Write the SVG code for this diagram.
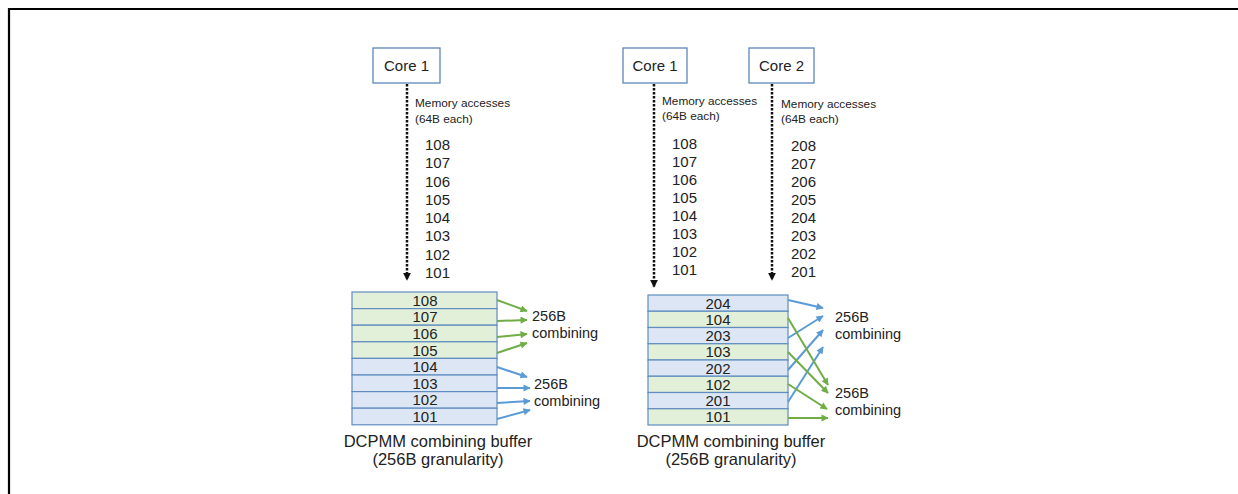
<svg xmlns="http://www.w3.org/2000/svg" width="1238" height="494" viewBox="0 0 1238 494">
<defs>
<style>
text{font-family:"Liberation Sans",Arial,sans-serif;fill:#222}
.core{fill:#fff;stroke:#5b87b9;stroke-width:1.3}
.ct{font-size:15px;text-anchor:middle}
.ma{font-size:11.8px}
.num{font-size:15px}
.bn{font-size:15px;text-anchor:middle}
.cap{font-size:16.5px;text-anchor:middle}
.lbl{font-size:14.5px}
.g{fill:#e2efd9;stroke:#5f8dc0;stroke-width:1.2}
.b{fill:#dce6f4;stroke:#5f8dc0;stroke-width:1.2}
.dot{stroke:#111;stroke-width:2.5;stroke-dasharray:2.5 1.5;fill:none;marker-end:url(#ak)}
.ga{stroke:#70ad47;stroke-width:2;fill:none;marker-end:url(#ag)}
.ba{stroke:#5b9bd5;stroke-width:2;fill:none;marker-end:url(#ab)}
</style>
<marker id="ak" viewBox="0 0 10 10" refX="9" refY="5" markerWidth="3.2" markerHeight="3.2" orient="auto" markerUnits="strokeWidth"><path d="M0,0L10,5L0,10z" fill="#111"/></marker>
<marker id="ag" viewBox="0 0 10 10" refX="9" refY="5" markerWidth="4.5" markerHeight="3.6" orient="auto" markerUnits="strokeWidth"><path d="M0,0L10,5L0,10z" fill="#70ad47"/></marker>
<marker id="ab" viewBox="0 0 10 10" refX="9" refY="5" markerWidth="4.5" markerHeight="3.6" orient="auto" markerUnits="strokeWidth"><path d="M0,0L10,5L0,10z" fill="#5b9bd5"/></marker>
</defs>
<rect width="1238" height="494" fill="#fff"/>
<path d="M8,9H1238M9,8V494" stroke="#000" stroke-width="2.2" fill="none"/>

<g id="left-core1">
<rect class="core" x="373" y="48" width="67" height="35"/>
<text class="ct" x="406.5" y="71">Core 1</text>
</g>
<g id="left-accesses">
<text class="ma" x="415" y="107">Memory accesses</text>
<text class="ma" x="415" y="123">(64B each)</text>
<text class="num" x="425" y="150">108</text>
<text class="num" x="425" y="168.3">107</text>
<text class="num" x="425" y="186.6">106</text>
<text class="num" x="425" y="204.9">105</text>
<text class="num" x="425" y="223.1">104</text>
<text class="num" x="425" y="241.4">103</text>
<text class="num" x="425" y="259.7">102</text>
<text class="num" x="425" y="278">101</text>
</g>
<g id="left-buffer">
<rect class="g" x="352" y="292" width="145" height="16.6"/>
<rect class="g" x="352" y="308.6" width="145" height="16.6"/>
<rect class="g" x="352" y="325.2" width="145" height="16.6"/>
<rect class="g" x="352" y="341.8" width="145" height="16.6"/>
<rect class="b" x="352" y="358.4" width="145" height="16.6"/>
<rect class="b" x="352" y="375" width="145" height="16.6"/>
<rect class="b" x="352" y="391.6" width="145" height="16.6"/>
<rect class="b" x="352" y="408.2" width="145" height="16.6"/>
<text class="bn" x="425" y="305.8">108</text>
<text class="bn" x="425" y="322.4">107</text>
<text class="bn" x="425" y="339">106</text>
<text class="bn" x="425" y="355.6">105</text>
<text class="bn" x="425" y="372.2">104</text>
<text class="bn" x="425" y="388.8">103</text>
<text class="bn" x="425" y="405.4">102</text>
<text class="bn" x="425" y="422">101</text>
<text class="cap" x="438" y="447">DCPMM combining buffer</text>
<text class="cap" x="438" y="465">(256B granularity)</text>
</g>
<g id="left-labels">
<text class="lbl" x="532" y="321">256B</text>
<text class="lbl" x="532" y="338">combining</text>
<text class="lbl" x="534" y="389">256B</text>
<text class="lbl" x="534" y="406">combining</text>
</g>

<g id="right-core1">
<rect class="core" x="623" y="48" width="64" height="35"/>
<text class="ct" x="655" y="71">Core 1</text>
</g>
<g id="right-core2">
<rect class="core" x="749" y="48" width="65" height="35"/>
<text class="ct" x="781.5" y="71">Core 2</text>
</g>
<g id="right-accesses1">
<text class="ma" x="662" y="105">Memory accesses</text>
<text class="ma" x="662" y="120">(64B each)</text>
<text class="num" x="672" y="149">108</text>
<text class="num" x="672" y="167">107</text>
<text class="num" x="672" y="185">106</text>
<text class="num" x="672" y="203">105</text>
<text class="num" x="672" y="221">104</text>
<text class="num" x="672" y="239">103</text>
<text class="num" x="672" y="257">102</text>
<text class="num" x="672" y="275">101</text>
</g>
<g id="right-accesses2">
<text class="ma" x="781" y="108">Memory accesses</text>
<text class="ma" x="781" y="123">(64B each)</text>
<text class="num" x="791" y="151">208</text>
<text class="num" x="791" y="169">207</text>
<text class="num" x="791" y="187">206</text>
<text class="num" x="791" y="205">205</text>
<text class="num" x="791" y="223">204</text>
<text class="num" x="791" y="241">203</text>
<text class="num" x="791" y="259">202</text>
<text class="num" x="791" y="277">201</text>
</g>
<g id="right-buffer">
<rect class="b" x="648" y="295" width="140" height="16.25"/>
<rect class="g" x="648" y="311.25" width="140" height="16.25"/>
<rect class="b" x="648" y="327.5" width="140" height="16.25"/>
<rect class="g" x="648" y="343.75" width="140" height="16.25"/>
<rect class="b" x="648" y="360" width="140" height="16.25"/>
<rect class="g" x="648" y="376.25" width="140" height="16.25"/>
<rect class="b" x="648" y="392.5" width="140" height="16.25"/>
<rect class="g" x="648" y="408.75" width="140" height="16.25"/>
<text class="bn" x="718" y="308.6">204</text>
<text class="bn" x="718" y="324.8">104</text>
<text class="bn" x="718" y="341.1">203</text>
<text class="bn" x="718" y="357.3">103</text>
<text class="bn" x="718" y="373.6">202</text>
<text class="bn" x="718" y="389.8">102</text>
<text class="bn" x="718" y="406.1">201</text>
<text class="bn" x="718" y="422.3">101</text>
<text class="cap" x="731" y="447">DCPMM combining buffer</text>
<text class="cap" x="731" y="465">(256B granularity)</text>
</g>
<g id="right-labels">
<text class="lbl" x="835" y="322">256B</text>
<text class="lbl" x="835" y="339">combining</text>
<text class="lbl" x="835" y="398">256B</text>
<text class="lbl" x="835" y="415">combining</text>
</g>

<g id="connectors">
<path class="dot" d="M407,84V280"/>
<path class="dot" d="M654,84V287"/>
<path class="dot" d="M772,84V280"/>
<path class="ga" d="M497,300L527,311"/>
<path class="ga" d="M497,321L527,320"/>
<path class="ga" d="M497,337L527,334"/>
<path class="ga" d="M497,353L527,343"/>
<path class="ba" d="M497,367L527,377"/>
<path class="ba" d="M497,388L530,388"/>
<path class="ba" d="M497,403L530,401"/>
<path class="ba" d="M497,419L530,410"/>
<path class="ba" d="M788,300L823,308"/>
<path class="ba" d="M788,338L823,316"/>
<path class="ba" d="M788,370L823,330"/>
<path class="ba" d="M788,402L823,347"/>
<path class="ga" d="M788,318L828,385"/>
<path class="ga" d="M788,352L828,393"/>
<path class="ga" d="M788,384L827,409"/>
<path class="ga" d="M788,418L828,418"/>
</g>
</svg>
